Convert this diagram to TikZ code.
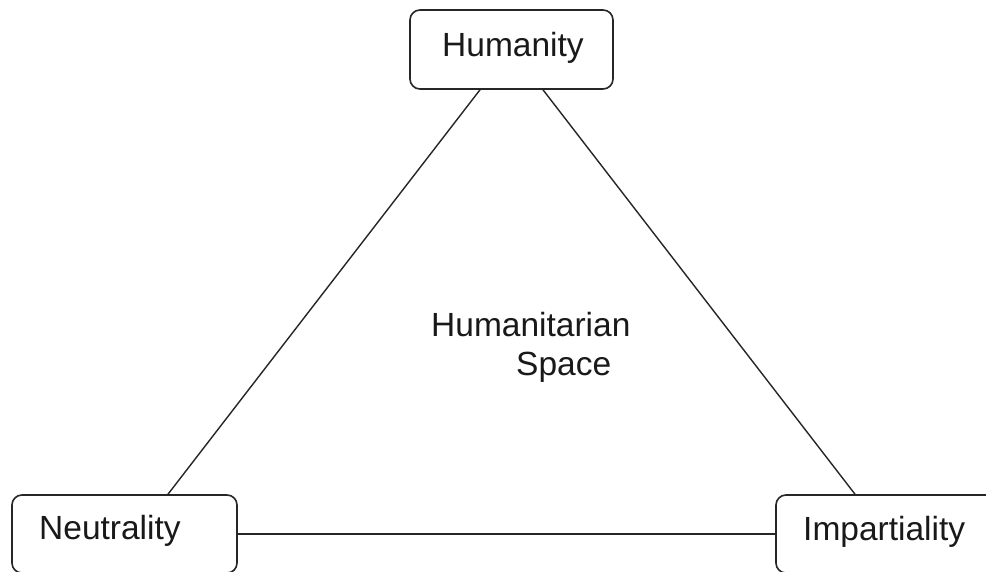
\documentclass[tikz,border=0pt]{standalone}
\usepackage{fontspec}
\setmainfont{Liberation Sans}
\begin{document}
\begin{tikzpicture}[x=1pt,y=-1pt,
  box/.style={draw=black!85,line width=1.6pt,rounded corners=10pt,inner sep=0pt},
  link/.style={draw=black!85,line width=1.4pt},
  txt/.style={font=\fontsize{33.5}{38}\selectfont,text=black!90,inner sep=0pt,anchor=base west}]
\clip (0,0) rectangle (986,572);
\fill[white] (0,0) rectangle (986,572);
\node[box,minimum width=203pt,minimum height=79pt] (hum) at (511.5,49.5) {};
\node[txt] (humt) at (442,57) {Humanity};
\node[box,minimum width=225pt,minimum height=78pt] (neu) at (124.5,534) {};
\node[txt] (neut) at (39,539) {Neutrality};
\node[box,minimum width=220pt,minimum height=78pt] (imp) at (886,534) {};
\node[txt] (impt) at (803,540) {Impartiality};
\node[txt] (space1) at (431,337) {Humanitarian};
\node[txt] (space2) at (516,375) {Space};
\draw[link] ([xshift=-31.5pt]hum.south) -- ([xshift=43.5pt]neu.north);
\draw[link] ([xshift=31.5pt]hum.south) -- ([xshift=-31pt]imp.north);
\draw[link] (neu.east) -- (imp.west);
\end{tikzpicture}
\end{document}
